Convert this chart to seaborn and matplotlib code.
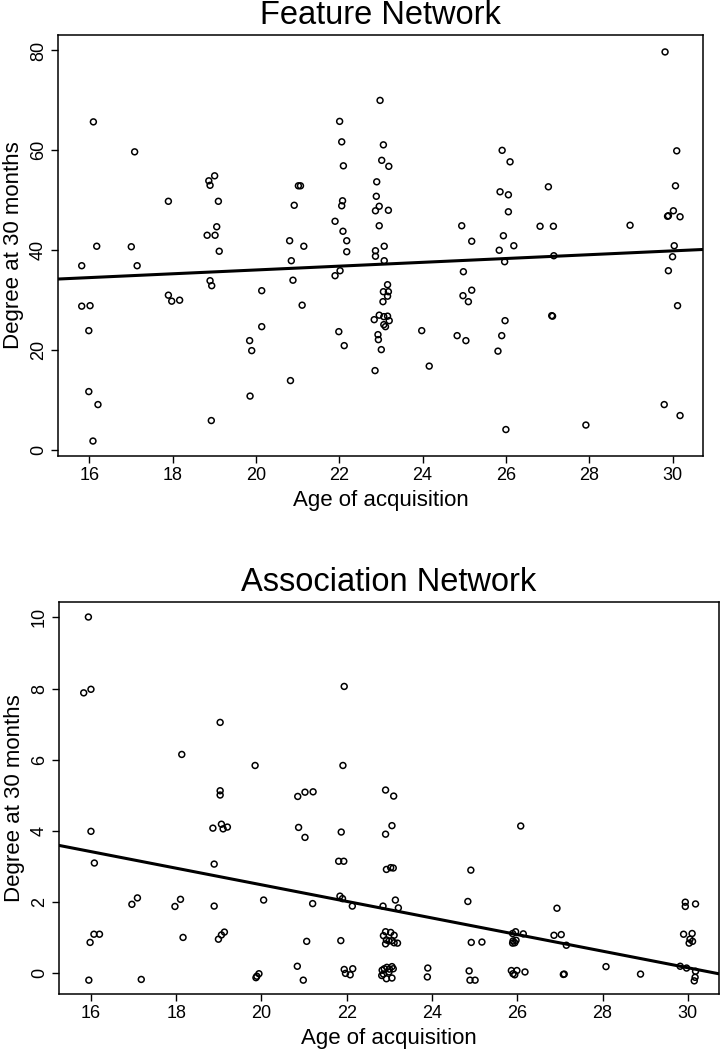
import numpy as np
import pandas as pd
import matplotlib
matplotlib.use('Agg')
import matplotlib.pyplot as plt
import seaborn as sns

# Feature network: age of acquisition vs degree at 30 months
feat_age = [16.10, 17.09, 17.90, 18.87, 19.01, 18.90, 19.10, 19.06, 18.83, 19.02,
            16.18, 17.01, 19.12, 15.82, 17.15, 18.90, 18.94, 17.90, 17.98, 18.17,
            20.14, 15.82, 16.02, 15.99, 20.14, 19.85, 19.90, 15.99, 16.21, 19.86,
            18.93, 16.09, 22.98, 22.01, 22.06, 23.06, 23.02, 23.19, 22.10, 22.90,
            21.02, 21.07, 20.92, 22.89, 22.08, 22.06, 22.96, 22.87, 23.18, 21.90,
            22.96, 22.09, 20.81, 21.15, 22.18, 24.94, 25.18, 25.91, 26.10, 25.86,
            26.06, 26.06, 25.94, 22.18, 22.87, 22.87, 23.08, 23.08, 20.85, 20.89,
            22.02, 21.90, 21.11, 23.16, 23.06, 23.18, 23.16, 23.05, 22.96, 23.07,
            23.16, 22.84, 23.20, 23.07, 23.11, 22.93, 22.94, 23.01, 22.86, 21.99,
            22.12, 20.83, 23.98, 24.16, 24.98, 25.18, 24.97, 25.10, 24.83, 25.04,
            25.84, 25.97, 25.98, 25.90, 25.81, 26.00, 29.82, 30.10, 27.02, 30.07,
            30.02, 29.90, 29.88, 30.18, 26.82, 27.14, 28.98, 26.19, 30.04, 27.15,
            30.00, 29.90, 30.12, 27.12, 27.10, 29.80, 30.18, 27.92]
feat_degree = [65.7, 59.7, 49.8, 53.9, 54.9, 53.0, 49.8, 44.7, 43.0, 43.0,
               40.8, 40.7, 39.8, 36.9, 36.9, 33.9, 32.9, 31.0, 29.8, 30.0,
               31.9, 28.8, 28.9, 23.9, 24.7, 21.9, 19.9, 11.7, 9.1, 10.8,
               5.9, 1.8, 70.0, 65.8, 61.7, 61.1, 58.0, 56.8, 56.9, 53.7,
               52.9, 52.9, 49.0, 50.8, 49.9, 48.9, 48.8, 47.9, 48.0, 45.8,
               44.9, 43.8, 41.9, 40.8, 41.9, 44.9, 41.8, 60.0, 57.7, 51.7,
               51.1, 47.7, 42.9, 39.7, 39.9, 38.8, 40.8, 37.9, 37.9, 34.0,
               35.9, 34.9, 29.0, 33.1, 31.7, 31.7, 30.8, 29.7, 27.0, 26.7,
               26.8, 26.1, 25.9, 25.1, 24.7, 23.1, 22.1, 20.1, 15.9, 23.7,
               20.9, 13.9, 23.9, 16.8, 35.7, 32.0, 30.9, 29.7, 22.9, 21.9,
               40.0, 37.7, 25.9, 22.9, 19.8, 4.1, 79.7, 59.9, 52.7, 52.9,
               47.9, 46.9, 46.8, 46.7, 44.8, 44.8, 45.0, 40.9, 40.9, 38.9,
               38.7, 35.9, 28.9, 26.8, 26.9, 9.1, 6.9, 5.0]

# Association network (jittered degrees)
assoc_age = [15.94, 15.83, 16.00, 19.03, 18.13, 19.85, 21.94, 21.91, 19.03, 19.03,
             18.86, 19.06, 19.10, 19.20, 16.00, 16.08, 18.89, 16.96, 17.09, 17.97,
             18.10, 18.89, 20.05, 16.07, 16.20, 15.98, 18.16, 18.99, 19.06, 19.13,
             15.95, 17.18, 19.87, 19.89, 19.94, 20.85, 21.02, 21.21, 22.91, 23.10,
             20.87, 21.02, 21.87, 22.91, 23.06, 21.81, 21.93, 22.93, 23.03, 23.09,
             24.91, 21.20, 21.84, 21.90, 22.13, 22.85, 23.14, 23.21, 24.84, 21.06,
             21.86, 22.91, 23.03, 23.11, 22.86, 22.93, 22.99, 23.06, 23.11, 23.19,
             22.91, 24.92, 25.17, 20.84, 20.98, 21.94, 21.97, 22.08, 22.14, 22.83,
             22.88, 22.94, 23.00, 23.06, 23.09, 22.82, 22.93, 23.06, 22.86, 22.99,
             23.90, 23.89, 24.87, 24.89, 25.01, 26.08, 26.93, 29.94, 29.94, 30.18,
             25.89, 25.96, 26.14, 25.90, 25.94, 25.89, 25.97, 26.86, 27.03, 27.15,
             29.90, 30.10, 30.05, 30.03, 30.11, 25.86, 25.90, 25.94, 25.99, 26.18,
             27.08, 27.10, 28.08, 28.89, 29.82, 29.97, 30.18, 30.17, 30.15]
assoc_degree = [10.01, 7.88, 7.98, 7.05, 6.15, 5.84, 8.06, 5.84, 5.13, 5.01,
                4.08, 4.19, 4.06, 4.11, 3.99, 3.10, 3.07, 1.94, 2.12, 1.88,
                2.08, 1.89, 2.06, 1.10, 1.10, 0.87, 1.01, 0.96, 1.08, 1.16,
                -0.19, -0.17, -0.12, -0.08, -0.01, 4.97, 5.09, 5.10, 5.15, 4.98,
                4.10, 3.82, 3.97, 3.91, 4.15, 3.15, 3.15, 2.92, 2.97, 2.96,
                2.90, 1.96, 2.17, 2.10, 1.89, 1.89, 2.06, 1.84, 2.02, 0.90,
                0.92, 1.17, 1.15, 1.07, 1.06, 0.94, 0.91, 0.92, 0.86, 0.85,
                0.83, 0.87, 0.88, 0.20, -0.19, 0.11, 0.00, -0.04, 0.13, 0.09,
                0.13, 0.17, 0.12, 0.19, 0.13, -0.06, -0.15, -0.13, -0.02, 0.04,
                0.15, -0.10, 0.07, -0.19, -0.19, 4.14, 1.83, 2.00, 1.88, 1.95,
                1.12, 1.17, 1.11, 0.91, 0.86, 0.85, 0.93, 1.07, 1.09, 0.79,
                1.10, 1.12, 0.96, 0.85, 0.90, 0.08, -0.01, -0.04, 0.08, 0.04,
                -0.03, -0.02, 0.19, -0.02, 0.20, 0.15, 0.06, -0.11, -0.21]

x_ticks = [16, 18, 20, 22, 24, 26, 28, 30]
feat_yticks = [0, 20, 40, 60, 80]
assoc_yticks = [0, 2, 4, 6, 8, 10]

sns.set_style('ticks')
plt.rcParams['font.family'] = ['Liberation Sans', 'DejaVu Sans']
plt.rcParams['axes.linewidth'] = 1.1
plt.rcParams['text.color'] = 'black'
plt.rcParams['axes.labelcolor'] = 'black'
plt.rcParams['xtick.color'] = 'black'
plt.rcParams['ytick.color'] = 'black'

fig = plt.figure(figsize=(7.21, 10.5), dpi=100)
ax1 = fig.add_axes([0.0804, 0.5657, 0.8946, 0.401])
ax2 = fig.add_axes([0.0818, 0.0533, 0.9154, 0.3733])

panels = [
    (ax1, feat_age, feat_degree, 'Feature Network', feat_yticks, (-1.2, 83.1)),
    (ax2, assoc_age, assoc_degree, 'Association Network', assoc_yticks, (-0.58, 10.43)),
]

for ax, xs, ys, title, yt, ylim in panels:
    df = pd.DataFrame({'age': xs, 'degree': ys})
    ax.set_xlim(15.25, 30.73)
    ax.set_ylim(*ylim)
    sns.regplot(data=df, x='age', y='degree', ax=ax, ci=None, truncate=False,
                color='black',
                scatter_kws=dict(s=18, facecolors='none', edgecolors='black',
                                 linewidths=1.1, alpha=1),
                line_kws=dict(lw=2.2))
    ax.set_xlim(15.25, 30.73)
    ax.set_ylim(*ylim)
    ax.set_xticks(x_ticks)
    ax.set_yticks(yt)
    ax.tick_params(direction='out', length=5, width=1.0, labelsize=13, pad=3,
                   colors='black', labelcolor='black')
    ax.tick_params(axis='y', labelrotation=90)
    for lab in ax.get_yticklabels():
        lab.set_va('center')
    ax.set_title(title, fontsize=23.5, pad=8, color='black')
    ax.set_xlabel('Age of acquisition', fontsize=16, color='black')
    ax.set_ylabel('Degree at 30 months', fontsize=16, color='black')
    for sp in ax.spines.values():
        sp.set_visible(True)
        sp.set_color('black')

fig.savefig('out.png', dpi=100)
